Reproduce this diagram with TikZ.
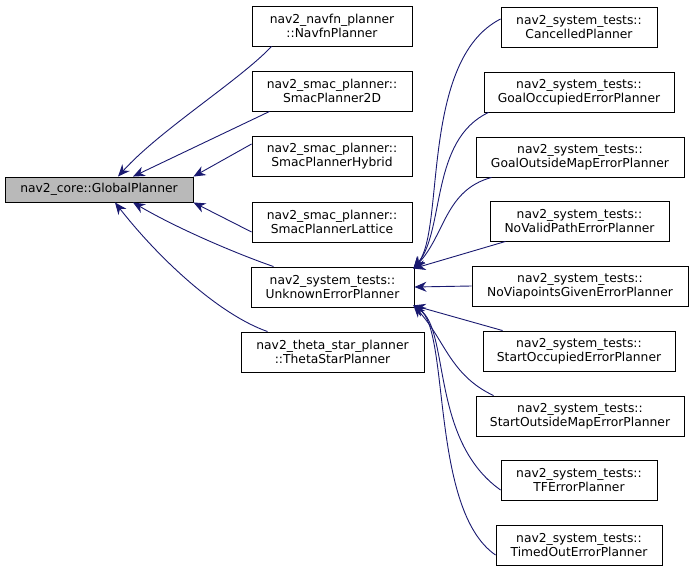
\documentclass[tikz,border=0pt]{standalone}
\usepackage{fontspec}
\setmainfont{DejaVu Sans}
\usetikzlibrary{arrows.meta}
\definecolor{edge}{HTML}{191970}
\begin{document}
\begin{tikzpicture}[x=1pt,y=-1pt,
  box/.style={draw,fill=white,align=center,font=\fontsize{12.3}{14.5}\selectfont,inner sep=0pt,minimum height=40pt,line width=0.9pt},
  e/.style={draw=edge,line width=0.9pt,{Stealth[length=12pt,width=10pt]}-}]
\useasboundingbox (0,0) rectangle (696,575);
\node[box,fill=gray!55,minimum width=188pt,minimum height=25pt] (gp) at (99,189.5) {nav2\_core::GlobalPlanner};
\node[box,minimum width=160pt] (nf) at (332,26) {nav2\_navfn\_planner\\::NavfnPlanner};
\node[box,minimum width=160pt] (s2) at (332,91) {nav2\_smac\_planner::\\SmacPlanner2D};
\node[box,minimum width=160pt] (sh) at (332,156) {nav2\_smac\_planner::\\SmacPlannerHybrid};
\node[box,minimum width=160pt] (sl) at (332,222) {nav2\_smac\_planner::\\SmacPlannerLattice};
\node[box,minimum width=163pt] (uk) at (332.5,287) {nav2\_system\_tests::\\UnknownErrorPlanner};
\node[box,minimum width=183pt] (ts) at (332.5,352) {nav2\_theta\_star\_planner\\::ThetaStarPlanner};
\node[box,minimum width=156pt] (c1) at (579,27) {nav2\_system\_tests::\\CancelledPlanner};
\node[box,minimum width=190pt] (c2) at (579,92) {nav2\_system\_tests::\\GoalOccupiedErrorPlanner};
\node[box,minimum width=208pt] (c3) at (580,157) {nav2\_system\_tests::\\GoalOutsideMapErrorPlanner};
\node[box,minimum width=179pt] (c4) at (579.5,221) {nav2\_system\_tests::\\NoValidPathErrorPlanner};
\node[box,minimum width=216pt] (c5) at (580,286) {nav2\_system\_tests::\\NoViapointsGivenErrorPlanner};
\node[box,minimum width=192pt] (c6) at (579,351) {nav2\_system\_tests::\\StartOccupiedErrorPlanner};
\node[box,minimum width=208pt] (c7) at (580,416) {nav2\_system\_tests::\\StartOutsideMapErrorPlanner};
\node[box,minimum width=156pt] (c8) at (579,480) {nav2\_system\_tests::\\TFErrorPlanner};
\node[box,minimum width=166pt] (c9) at (579,545) {nav2\_system\_tests::\\TimedOutErrorPlanner};
% left edges
\draw[e] ([xshift=19pt]gp.north) .. controls (160,130) and (240,80) .. ([xshift=20pt]nf.south west);
\draw[e] ([xshift=34pt]gp.north) -- ([xshift=18pt]s2.south west);
\draw[e] (gp.north east) -- ([yshift=12pt]sh.west);
\draw[e] (gp.south east) -- ([yshift=-10pt]sl.west);
\draw[e] ([xshift=34pt]gp.south) .. controls (180,230) and (240,255) .. ([xshift=23pt]uk.north west);
\draw[e] ([xshift=16pt]gp.south) .. controls (160,260) and (220,315) .. ([xshift=27pt]ts.north west);
% right edges
\coordinate (ut) at ([xshift=-1pt,yshift=-2pt]uk.north east);
\coordinate (ub) at ([xshift=-1pt,yshift=2pt]uk.south east);
\draw[e] (ut) .. controls (445,230) and (420,60) .. ([yshift=8pt]c1.west);
\draw[e] (ut) .. controls (445,230) and (430,140) .. ([xshift=5pt]c2.south west);
\draw[e] (ut) .. controls (445,235) and (445,190) .. ([xshift=16pt]c3.south west);
\draw[e] (ut) -- ([xshift=16pt]c4.south west);
\draw[e] (uk.east) -- (c5.west);
\draw[e] (ub) -- ([xshift=20pt]c6.north west);
\draw[e] (ub) .. controls (445,340) and (450,375) .. ([xshift=18pt]c7.north west);
\draw[e] (ub) .. controls (450,330) and (430,440) .. ([yshift=-10pt]c8.west);
\draw[e] (ub) .. controls (450,330) and (430,510) .. ([yshift=-10pt]c9.west);
\end{tikzpicture}
\end{document}
